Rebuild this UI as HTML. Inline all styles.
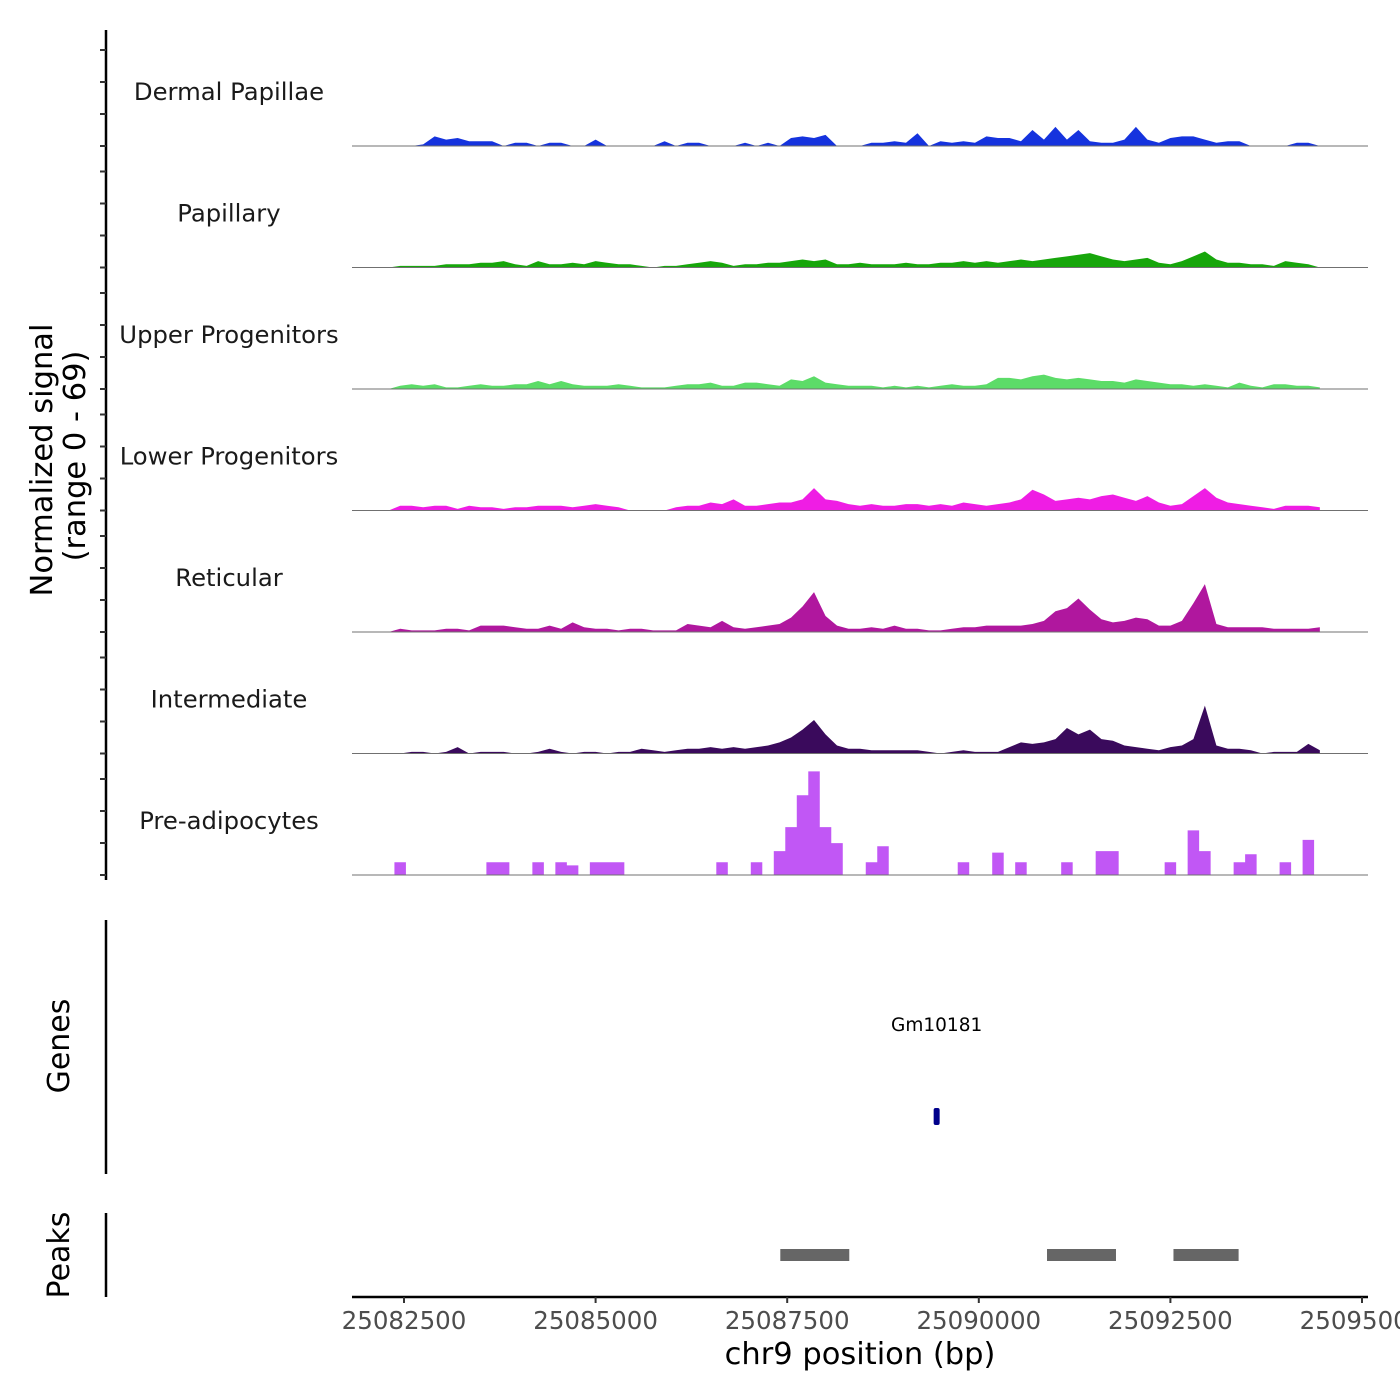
<!DOCTYPE html>
<html><head><meta charset="utf-8"><style>body{margin:0;background:#fff}svg{display:block;font-family:"DejaVu Sans","Liberation Sans",sans-serif}</style></head>
<body>
<svg id="chart" width="1400" height="1400" viewBox="0 0 1400 1400" xmlns="http://www.w3.org/2000/svg"></svg>
<script>
const trackNames=["Dermal Papillae","Papillary","Upper Progenitors","Lower Progenitors","Reticular","Intermediate","Pre-adipocytes"];
const trackColors=["#1533de","#17a60b","#5cdc68","#ef1de4","#b0179e","#3a0a5c","#c157f5"];
const binStart=25082000, binSize=150;
const dermal=[0,0,0,0,0,1,6,4,5,3,3,3,0,2,2,0,2,2,0,0,4,0,0,0,0,0,3,0,2,2,0,0,0,2,0,2,0,5,6,5,7,0,0,0,2,2,3,2,8,0,3,2,3,2,6,5,5,3,10,4,12,4,10,3,2,2,4,12,4,2,5,6,6,4,2,3,3,0,0,0,0,2,2,0];
const papillary=[0,0,0,1,1,1,1,2,2,2,3,3,4,2,1,4,2,2,3,2,4,3,2,2,1,0,1,1,2,3,4,3,1,2,2,3,3,4,5,4,5,2,2,3,2,2,2,3,2,2,3,3,4,3,4,3,4,5,4,5,6,7,8,9,7,5,4,5,6,3,2,4,7,10,5,3,3,2,2,1,4,3,2,0];
const upper=[0,0,0,2,3,2,3,1,1,2,3,2,2,3,3,5,3,5,3,2,2,2,3,2,1,1,1,2,3,3,4,2,2,4,4,3,2,6,5,8,4,3,2,2,2,1,2,1,2,1,2,3,2,2,3,7,7,6,8,9,7,6,7,6,5,5,4,6,5,4,3,3,2,3,2,1,4,2,1,3,3,2,2,1];
const lower=[0,0,0,3,3,2,3,3,1,3,2,2,1,2,2,3,3,3,2,3,4,3,2,0,0,0,0,2,3,3,5,4,7,3,3,4,5,5,7,14,7,6,4,3,4,3,3,4,4,3,4,3,5,4,3,4,5,7,13,10,6,7,8,7,9,10,8,6,9,5,3,4,9,14,8,5,4,3,2,1,3,3,3,2];
const reticular=[0,0,0,2,1,1,1,2,2,1,4,4,4,3,2,2,4,2,6,3,2,2,1,2,2,1,1,1,5,4,3,7,3,2,3,4,5,9,16,25,10,4,2,2,3,2,4,2,2,1,1,2,3,3,4,4,4,4,5,7,13,15,21,14,8,6,7,9,8,4,4,7,18,30,5,3,3,3,3,2,2,2,2,3];
const intermediate=[0,0,0,0,1,1,0,1,4,0,1,1,1,0,0,1,3,1,0,1,1,0,1,1,3,2,1,2,3,3,4,3,4,3,4,5,7,10,15,21,12,5,3,3,2,2,2,2,2,1,0,1,2,1,1,1,4,7,6,7,9,16,12,15,9,8,5,4,3,2,4,5,9,30,5,3,3,2,0,1,1,1,6,2];
const preadipocytes=[0,0,0,8,0,0,0,0,0,0,0,8,8,0,0,8,0,8,6,0,8,8,8,0,0,0,0,0,0,0,0,8,0,0,8,0,15,30,50,65,30,20,0,0,8,18,0,0,0,0,0,0,8,0,0,14,0,8,0,0,0,8,0,0,15,15,0,0,0,0,8,0,28,15,0,0,8,13,0,0,8,0,22,0];
const trackData=[dermal,papillary,upper,lower,reticular,intermediate,preadipocytes];
const xTicks=[25082500,25085000,25087500,25090000,25092500,25095000];
const peakStarts=[25087410,25090890,25092540];
const peakEnds=[25088310,25091790,25093390];
const geneName="Gm10181", genePos=25089450;

const NS="http://www.w3.org/2000/svg";
const svg=document.getElementById('chart');
function mk(tag,attrs,parent){const e=document.createElementNS(NS,tag);for(const k in attrs)e.setAttribute(k,attrs[k]);(parent||svg).appendChild(e);return e;}
const px0=404, pxPer=191.6/2500;
const xs=bp=>px0+(bp-25082500)*pxPer;
const base0=146, trackStep=121.5, pxPerUnit=110/69;
const ys=(t,v)=>base0+t*trackStep-v*pxPerUnit;

const ax=mk('line',{x1:106,y1:30,x2:106,y2:880,stroke:'#000','stroke-width':2.5});

for(let t=0;t<7;t++){
  for(let k=0;k<4;k++){
    const y=base0+t*trackStep-k*32;
    const tk=mk('line',{x1:100,y1:y,x2:106,y2:y,stroke:'#333','stroke-width':2});
    
  }
  const base=base0+t*trackStep;
  const lab=mk('text',{x:229,y:base-46,'text-anchor':'middle','font-size':24.3,fill:'#1a1a1a'});
  lab.textContent=trackNames[t];
  
  const d=trackData[t];
  let path;
  if(t===6){
    path='M'+xs(binStart)+','+base;
    d.forEach((v,i)=>{const a=xs(binStart+i*binSize-binSize/2),b=xs(binStart+i*binSize+binSize/2);path+=' L'+a+','+ys(t,v)+' L'+b+','+ys(t,v);});
    path+=' L'+xs(binStart+(d.length-1)*binSize+binSize/2)+','+base+' Z';
  } else {
    path='M'+xs(binStart)+','+base;
    d.forEach((v,i)=>{path+=' L'+xs(binStart+i*binSize)+','+ys(t,v);});
    path+=' L'+xs(binStart+(d.length-1)*binSize)+','+base+' Z';
  }
  const ar=mk('path',{d:path,fill:trackColors[t]});
  
  const bl=mk('line',{x1:352,y1:base,x2:1368,y2:base,stroke:'#707070','stroke-width':1});
  
}
const yt=mk('text',{transform:'translate(52,460) rotate(-90)','text-anchor':'middle','font-size':30.5,fill:'#000'});
yt.textContent='Normalized signal';

const yt2=mk('text',{transform:'translate(85,456) rotate(-90)','text-anchor':'middle','font-size':30.5,fill:'#000'});
yt2.textContent='(range 0 - 69)';


const ga=mk('line',{x1:106,y1:920,x2:106,y2:1174,stroke:'#000','stroke-width':2.5});

const gt=mk('text',{transform:'translate(69,1046) rotate(-90)','text-anchor':'middle','font-size':30,fill:'#000'});
gt.textContent='Genes';

const gl=mk('text',{x:xs(genePos),y:1031,'text-anchor':'middle','font-size':18.5,fill:'#000'});
gl.textContent=geneName;

const gm=mk('rect',{x:xs(genePos)-3,y:1108,width:6,height:17,fill:'#00008b',rx:2});


const pa=mk('line',{x1:106,y1:1213,x2:106,y2:1297,stroke:'#000','stroke-width':2.5});

const pt=mk('text',{transform:'translate(69,1255) rotate(-90)','text-anchor':'middle','font-size':30,fill:'#000'});
pt.textContent='Peaks';

peakStarts.forEach((s,i)=>{
  const r=mk('rect',{x:xs(s),y:1249,width:xs(peakEnds[i])-xs(s),height:12,fill:'#666'});
  
});

const xa=mk('line',{x1:352,y1:1297,x2:1368,y2:1297,stroke:'#000','stroke-width':2.5});

xTicks.forEach(v=>{
  const tk=mk('line',{x1:xs(v),y1:1297,x2:xs(v),y2:1303,stroke:'#333','stroke-width':2});
  
  const tl=mk('text',{x:xs(v),y:1329,'text-anchor':'middle','font-size':24.5,fill:'#4d4d4d'});
  tl.textContent=v;
  
});
const xt=mk('text',{x:860,y:1364,'text-anchor':'middle','font-size':30.5,fill:'#000'});
xt.textContent='chr9 position (bp)';

</script>
</body></html>
